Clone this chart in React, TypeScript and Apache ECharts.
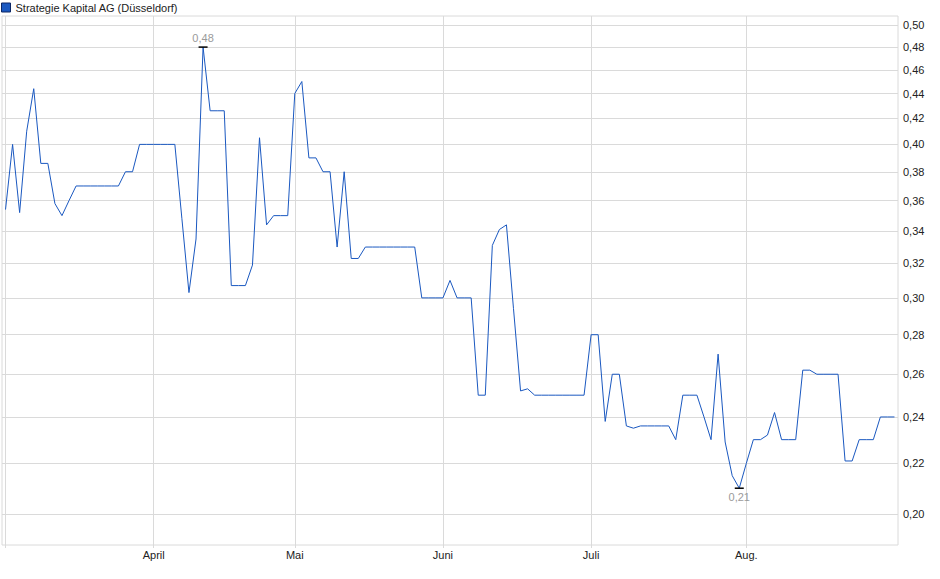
import React, { useEffect, useRef } from 'react';
import * as echarts from 'echarts';

// trading days per month, first point is the first trading day of March
const monthNames = ['März', 'April', 'Mai', 'Juni', 'Juli', 'Aug.'];
const monthDays = [21, 20, 21, 21, 22, 22];

const prices = [
  0.354, 0.4, 0.352, 0.41, 0.444, 0.386, 0.386, 0.358, 0.35, 0.36,
  0.37, 0.37, 0.37, 0.37, 0.37, 0.37, 0.37, 0.38, 0.38, 0.4,
  0.4, 0.4, 0.4, 0.4, 0.4, 0.348, 0.303, 0.335, 0.48, 0.426,
  0.426, 0.426, 0.307, 0.307, 0.307, 0.319, 0.405, 0.344, 0.35, 0.35,
  0.35, 0.44, 0.45, 0.39, 0.39, 0.38, 0.38, 0.33, 0.38, 0.323,
  0.323, 0.33, 0.33, 0.33, 0.33, 0.33, 0.33, 0.33, 0.33, 0.3,
  0.3, 0.3, 0.3, 0.31, 0.3, 0.3, 0.3, 0.25, 0.25, 0.331,
  0.341, 0.344, 0.294, 0.252, 0.253, 0.25, 0.25, 0.25, 0.25, 0.25,
  0.25, 0.25, 0.25, 0.28, 0.28, 0.238, 0.26, 0.26, 0.236, 0.235,
  0.236, 0.236, 0.236, 0.236, 0.236, 0.23, 0.25, 0.25, 0.25, 0.24,
  0.23, 0.27, 0.229, 0.215, 0.21, 0.22, 0.23, 0.23, 0.232, 0.242,
  0.23, 0.23, 0.23, 0.262, 0.262, 0.26, 0.26, 0.26, 0.26, 0.221,
  0.221, 0.23, 0.23, 0.23, 0.24, 0.24, 0.24,
];

const yTicks = [0.2, 0.22, 0.24, 0.26, 0.28, 0.3, 0.32, 0.34, 0.36, 0.38, 0.4, 0.42, 0.44, 0.46, 0.48, 0.5];

const SERIES_NAME = 'Strategie Kapital AG (Düsseldorf)';
const LINE_COLOR = '#1a58c0';
const GRID_COLOR = '#dadada';
const FONT = '"Liberation Sans", Arial, sans-serif';

const fmt = (v: number) => v.toFixed(2).replace('.', ',');

const App: React.FC = () => {
  const chartRef = useRef<HTMLDivElement>(null);

  useEffect(() => {
    document.body.style.margin = '0';
    const chart = echarts.init(chartRef.current!, undefined, { renderer: 'svg' });

    const categories: string[] = [];
    const monthStart: Record<number, string> = {};
    monthNames.forEach((m, mi) => {
      monthStart[categories.length] = m;
      for (let d = 0; d < monthDays[mi]; d++) categories.push(`${m} ${d + 1}`);
    });
    const startIdx = Object.keys(monthStart).map(Number);

    const options: any = {
      animation: false,
      textStyle: { fontFamily: FONT },
      grid: {
        left: 2,
        right: 42,
        top: 16,
        bottom: 34,
        show: true,
        borderColor: GRID_COLOR,
        borderWidth: 1,
      },
      legend: {
        left: 1,
        top: 2,
        padding: 0,
        itemWidth: 9,
        itemHeight: 9,
        selectedMode: false,
        textStyle: { fontSize: 11, color: '#222', fontFamily: FONT },
        data: [
          {
            name: SERIES_NAME,
            icon: 'rect',
            itemStyle: { color: LINE_COLOR, borderColor: '#0c2766', borderWidth: 1 },
          },
        ],
      },
      xAxis: {
        type: 'category',
        data: categories,
        boundaryGap: true,
        axisLine: { show: false },
        axisTick: {
          show: true,
          alignWithLabel: true,
          length: 3,
          interval: (i: number) => i in monthStart,
          lineStyle: { color: GRID_COLOR },
        },
        axisLabel: {
          interval: (i: number) => i in monthStart && i > 0,
          formatter: (_v: string, i: number) => monthStart[i] ?? '',
          fontSize: 11,
          color: '#222',
          margin: 4,
          fontFamily: FONT,
        },
        splitLine: { show: false },
      },
      yAxis: {
        type: 'log',
        min: 0.1888,
        max: 0.5088,
        axisLine: { show: false },
        axisTick: { show: false },
        axisLabel: { show: false },
        splitLine: { show: false },
      },
      series: [
        {
          name: 'grid',
          type: 'line',
          z: 1,
          data: categories.map(() => null),
          silent: true,
          markLine: {
            silent: true,
            z: 1,
            symbol: 'none',
            lineStyle: { color: GRID_COLOR, width: 1, type: 'solid' },
            emphasis: { disabled: true },
            data: [
              ...yTicks.map((v) => ({
                yAxis: v,
                label: {
                  show: true,
                  position: 'end',
                  distance: 5,
                  formatter: fmt(v),
                  fontSize: 11,
                  color: '#222',
                  fontFamily: FONT,
                },
              })),
              ...startIdx.map((i) => ({ xAxis: categories[i], label: { show: false } })),
            ],
          },
        },
        {
          name: SERIES_NAME,
          type: 'line',
          z: 3,
          data: prices,
          symbol: 'none',
          showSymbol: false,
          lineStyle: { color: LINE_COLOR, width: 1 },
          itemStyle: { color: LINE_COLOR },
          markPoint: {
            silent: true,
            z: 4,
            symbol: 'rect',
            symbolSize: [9, 1.5],
            itemStyle: { color: '#000' },
            data: [
              {
                type: 'max',
                label: {
                  show: true,
                  position: 'top',
                  distance: 3,
                  formatter: (p: any) => fmt(p.value),
                  fontSize: 11,
                  color: '#9a9a9a',
                  fontFamily: FONT,
                },
              },
              {
                type: 'min',
                label: {
                  show: true,
                  position: 'bottom',
                  distance: 3,
                  formatter: (p: any) => fmt(p.value),
                  fontSize: 11,
                  color: '#9a9a9a',
                  fontFamily: FONT,
                },
              },
            ],
          },
        },
      ],
    };

    chart.setOption(options);

    return () => {
      chart.dispose();
    };
  }, []);

  return <div ref={chartRef} style={{ width: '940px', height: '579px' }} />;
};

export default App;
